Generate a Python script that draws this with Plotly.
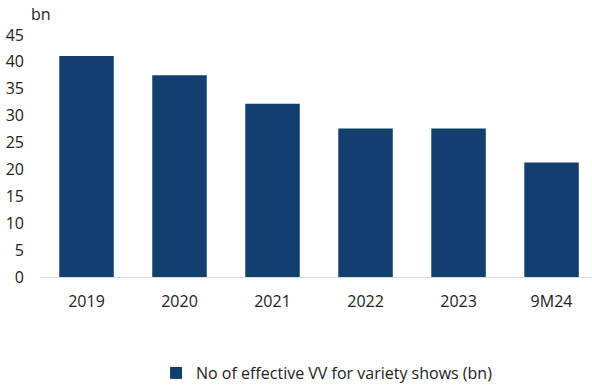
import plotly.graph_objects as go

categories = ["2019", "2020", "2021", "2022", "2023", "9M24"]
values = [41.1, 37.5, 32.2, 27.6, 27.6, 21.3]
series_name = "No of effective VV for variety shows (bn)"
y_ticks = [0, 5, 10, 15, 20, 25, 30, 35, 40, 45]

BAR_COLOR = "#123f6e"
TEXT_COLOR = "#222222"
FONT = "Open Sans"
FS = 16

fig = go.Figure()
fig.add_trace(go.Bar(
    x=categories,
    y=values,
    name=series_name,
    marker=dict(color=BAR_COLOR, line=dict(color=BAR_COLOR, width=0)),
    showlegend=True,
))

fig.update_layout(
    width=592,
    height=385,
    margin=dict(l=40, r=0, t=35, b=108, autoexpand=False),
    paper_bgcolor="white",
    plot_bgcolor="white",
    bargap=0.414,
    font=dict(family=FONT, size=FS, color=TEXT_COLOR),
    xaxis=dict(
        range=[-0.5, 5.435],
        showgrid=False,
        showline=True,
        linecolor="#d9d9d9",
        linewidth=1,
        ticks="",
        ticklabelstandoff=10,
        tickfont=dict(size=FS, color=TEXT_COLOR),
    ),
    yaxis=dict(
        range=[0, 45],
        tickvals=y_ticks,
        showgrid=False,
        zeroline=False,
        showline=False,
        ticks="",
        ticklabelstandoff=15,
        tickfont=dict(size=FS, color=TEXT_COLOR),
    ),
    legend=dict(
        orientation="h",
        x=0.52,
        xanchor="center",
        yref="container",
        y=12 / 385,
        yanchor="middle",
        font=dict(size=FS, color=TEXT_COLOR),
        itemsizing="constant",
    ),
    annotations=[
        dict(
            text="bn",
            xref="paper",
            yref="paper",
            x=-0.02,
            y=1.0,
            xanchor="left",
            yanchor="bottom",
            yshift=8,
            showarrow=False,
            font=dict(size=FS, color=TEXT_COLOR),
        )
    ],
)

fig.write_html("out.html")
